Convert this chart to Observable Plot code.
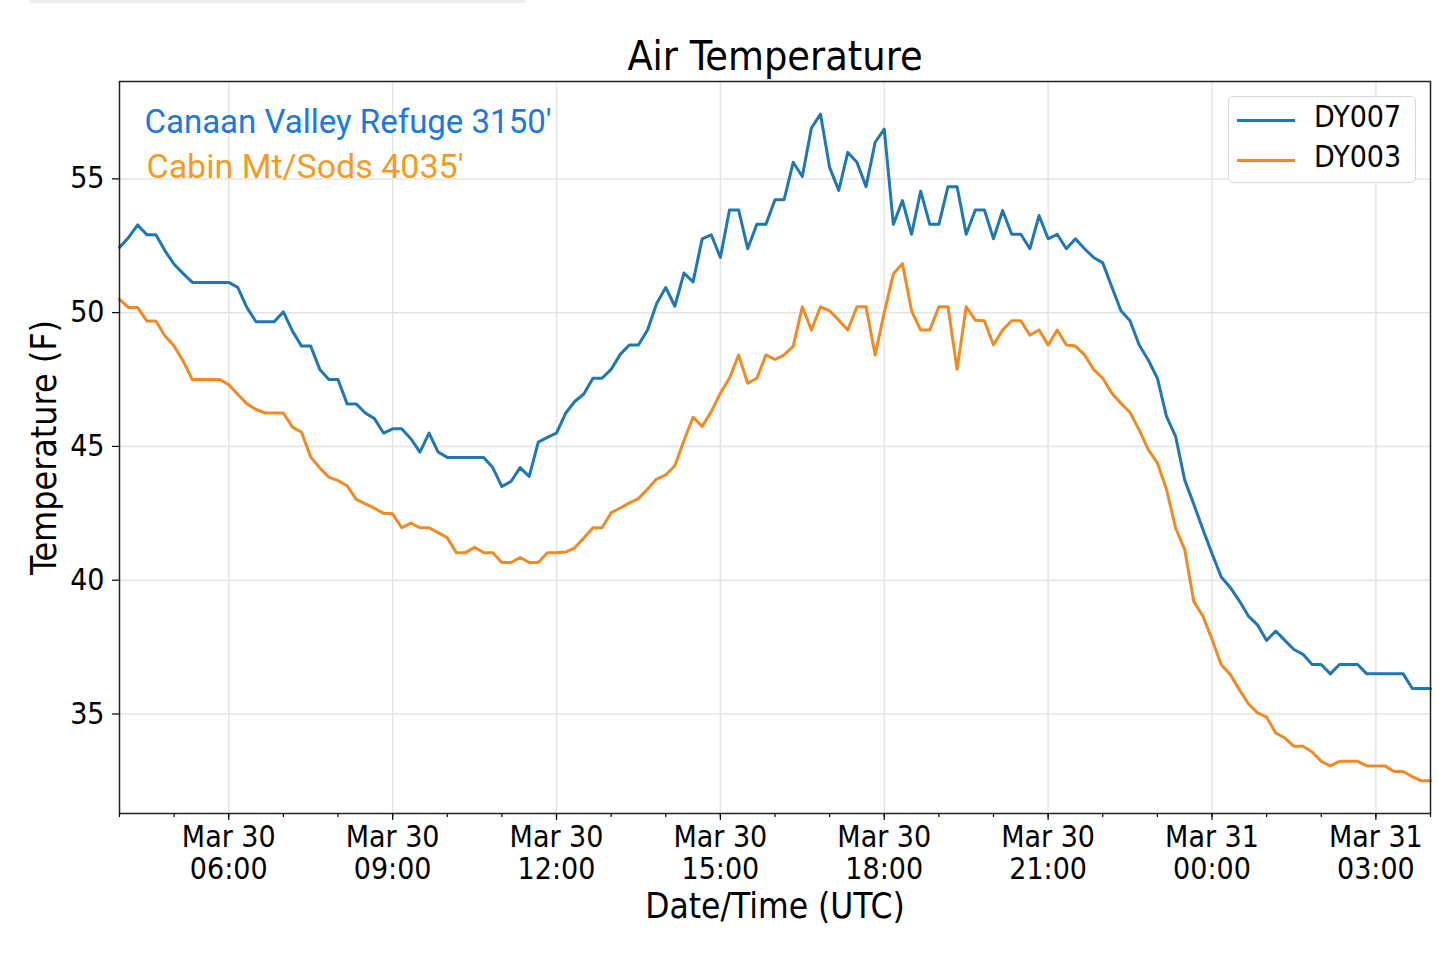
<!DOCTYPE html>
<html>
<head>
<meta charset="utf-8">
<script src="https://cdn.jsdelivr.net/npm/d3@7"></script>
<script src="https://cdn.jsdelivr.net/npm/@observablehq/plot@0.6"></script>
<style>
  body { margin: 0; background: #fff; }
  #wrap { position: relative; width: 1438px; height: 958px; overflow: hidden; }
  #topbar { position: absolute; left: 30px; top: 0; width: 495px; height: 3px; background: #ececec; }
  #legend {
    position: absolute; left: 1228px; top: 96px; width: 186px; height: 85px;
    border: 1.5px solid #d6d6d6; border-radius: 5px; background: #fff;
    font-family: "DejaVu Sans Condensed", "DejaVu Sans", sans-serif; font-size: 30px;
  }
  #legend .row { position: absolute; left: 0; height: 40px; width: 100%; }
  #legend .sw { position: absolute; left: 8px; width: 58px; height: 0; border-top: 3px solid; top: 19px; }
  #legend .lb { position: absolute; left: 85px; top: -1px; line-height: 36px; }
</style>
</head>
<body>
<div id="wrap">
  <div id="chart"></div>
  <div id="topbar"></div>
  <div id="legend"></div>
</div>
<script>
// series: air temperature (F), every 10 min from Mar 30 04:00 to Mar 31 04:00 UTC
const series = ["DY007", "DY003"];
const colors = ["#1f77b4", "#f28a24"];

const dy007 = [
  52.44, 52.81, 53.28, 52.91, 52.91, 52.31, 51.81, 51.46, 51.13, 51.13,
  51.13, 51.13, 51.13, 50.94, 50.19, 49.66, 49.66, 49.66, 50.03, 49.31,
  48.75, 48.75, 47.88, 47.5, 47.5, 46.59, 46.59, 46.25, 46.04, 45.5,
  45.66, 45.66, 45.29, 44.79, 45.5, 44.79, 44.59, 44.59, 44.59, 44.59,
  44.59, 44.21, 43.5, 43.69, 44.21, 43.88, 45.16, 45.34, 45.5, 46.24,
  46.68, 46.96, 47.55, 47.55, 47.88, 48.44, 48.79, 48.79, 49.35, 50.34,
  50.94, 50.24, 51.48, 51.15, 52.76, 52.91, 52.06, 53.84, 53.84, 52.39,
  53.3, 53.3, 54.22, 54.22, 55.62, 55.09, 56.9, 57.42, 55.43, 54.57,
  55.99, 55.62, 54.71, 56.37, 56.86, 53.3, 54.19, 52.93, 54.54, 53.3,
  53.3, 54.71, 54.71, 52.93, 53.84, 53.84, 52.76, 53.82, 52.93, 52.93,
  52.39, 53.63, 52.76, 52.93, 52.39, 52.76, 52.39, 52.06, 51.86, 50.96,
  50.07, 49.7, 48.79, 48.23, 47.55, 46.12, 45.38, 43.75, 42.84, 41.9,
  41.0, 40.13, 39.73, 39.23, 38.66, 38.33, 37.75, 38.1, 37.75, 37.41,
  37.23, 36.85, 36.85, 36.5, 36.85, 36.85, 36.85, 36.5, 36.5, 36.5,
  36.5, 36.5, 35.95, 35.95, 35.95
];

const dy003 = [
  50.5, 50.19, 50.19, 49.69, 49.69, 49.13, 48.75, 48.19, 47.5, 47.5,
  47.5, 47.5, 47.31, 46.94, 46.59, 46.38, 46.25, 46.25, 46.25, 45.72,
  45.53, 44.6, 44.2, 43.85, 43.72, 43.53, 43.02, 42.85, 42.69, 42.5,
  42.48, 41.96, 42.13, 41.96, 41.96, 41.78, 41.59, 41.03, 41.03, 41.23,
  41.03, 41.03, 40.66, 40.66, 40.85, 40.66, 40.66, 41.03, 41.03, 41.05,
  41.21, 41.58, 41.96, 41.96, 42.52, 42.7, 42.89, 43.05, 43.41, 43.78,
  43.94, 44.28, 45.22, 46.09, 45.75, 46.3, 46.99, 47.55, 48.42, 47.36,
  47.55, 48.42, 48.25, 48.42, 48.75, 50.22, 49.35, 50.22, 50.07, 49.72,
  49.35, 50.22, 50.22, 48.42, 50.0, 51.45, 51.83, 50.07, 49.35, 49.35,
  50.22, 50.22, 47.88, 50.22, 49.72, 49.7, 48.79, 49.35, 49.7, 49.7,
  49.16, 49.35, 48.79, 49.35, 48.79, 48.75, 48.42, 47.88, 47.55, 46.99,
  46.61, 46.27, 45.62, 44.88, 44.38, 43.4, 41.95, 41.15, 39.2, 38.66,
  37.79, 36.85, 36.48, 35.91, 35.38, 35.04, 34.88, 34.29, 34.1, 33.79,
  33.79, 33.58, 33.23, 33.06, 33.23, 33.23, 33.23, 33.06, 33.06, 33.06,
  32.85, 32.85, 32.66, 32.5, 32.5
];

const yTicks = [35, 40, 45, 50, 55];

const start = new Date(Date.UTC(2020, 2, 30, 4, 0));
const end = new Date(Date.UTC(2020, 2, 31, 4, 0));
const times = d3.utcMinute.every(10).range(start, new Date(+end + 1));

const rows = [
  ...dy007.map((v, i) => ({t: times[i], v, s: series[0]})),
  ...dy003.map((v, i) => ({t: times[i], v, s: series[1]}))
];

const majorTicks = d3.utcHour.every(3).range(new Date(Date.UTC(2020, 2, 30, 6)), end);
const minorTicks = d3.utcHour.every(1).range(start, new Date(+end + 1));
const fmt = d3.utcFormat("%b %d\n%H:%M");

const font = '"DejaVu Sans Condensed", "DejaVu Sans", sans-serif';

let chart = Plot.plot({
  width: 1438,
  height: 958,
  marginLeft: 119,
  marginRight: 8,
  marginTop: 81,
  marginBottom: 145,
  style: {fontFamily: font, fontSize: "30px", color: "#000", background: "#fff"},
  x: {type: "utc", domain: [start, end]},
  y: {domain: [31.28, 58.64]},
  color: {domain: series, range: colors},
  marks: [
    Plot.gridX({ticks: majorTicks, stroke: "#e4e4e4", strokeOpacity: 1, strokeWidth: 1.5}),
    Plot.gridY({ticks: yTicks, stroke: "#e4e4e4", strokeOpacity: 1, strokeWidth: 1.5}),
    Plot.axisX({ticks: minorTicks, tickSize: 4, tickFormat: () => "", label: null, strokeWidth: 1.2}),
    Plot.axisX({
      ticks: majorTicks, tickSize: 7, tickPadding: 4, tickFormat: fmt,
      label: null, fontSize: 30, lineHeight: 1.06, strokeWidth: 1.2
    }),
    Plot.axisY({ticks: yTicks, tickSize: 7, tickPadding: 8, label: null, fontSize: 30, strokeWidth: 1.2}),
    Plot.lineY(rows, {x: "t", y: "v", z: "s", stroke: "s", strokeWidth: 3}),
    Plot.frame({stroke: "#222", strokeWidth: 1.5}),
    Plot.text(["Air Temperature"], {frameAnchor: "top", lineAnchor: "middle", dy: -25, fontSize: 41}),
    Plot.text(["Date/Time (UTC)"], {frameAnchor: "bottom", lineAnchor: "middle", dy: 93, fontSize: 35}),
    Plot.text(["Temperature (F)"], {
      frameAnchor: "left", textAnchor: "middle", lineAnchor: "middle",
      dx: -75, rotate: -90, fontSize: 35.5
    }),
    Plot.text(["Canaan Valley Refuge 3150'"], {
      frameAnchor: "top-left", lineAnchor: "middle", dx: 25, dy: 41, textAnchor: "start",
      fill: "#1a78e6", fontSize: 33, fontFamily: "Roboto"
    }),
    Plot.text(["Cabin Mt/Sods 4035'"], {
      frameAnchor: "top-left", lineAnchor: "middle", dx: 27, dy: 86, textAnchor: "start",
      fill: "#f59a22", fontSize: 34, fontFamily: "Roboto"
    })
  ]
});
d3.select("#chart").append(() => chart);

// legend
const legend = d3.select("#legend");
series.forEach((s, i) => {
  const row = legend.append("div").attr("class", "row").style("top", (3 + i * 40) + "px");
  row.append("div").attr("class", "sw").style("border-color", colors[i]);
  row.append("div").attr("class", "lb").text(s);
});
</script>
</body>
</html>
